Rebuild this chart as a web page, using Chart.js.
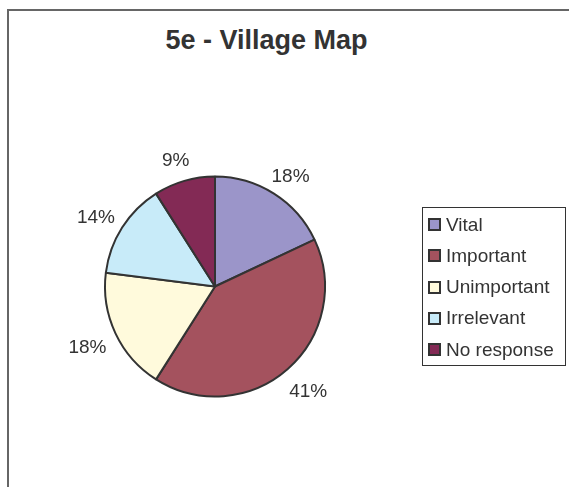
<!DOCTYPE html>
<html>
<head>
<meta charset="utf-8">
<script src="https://cdn.jsdelivr.net/npm/chart.js@4.4.1/dist/chart.umd.min.js"></script>
<style>
  html, body { margin: 0; padding: 0; background: #fff; }
  body { width: 569px; height: 487px; position: relative; overflow: hidden; font-family: 'Liberation Sans', Arial, sans-serif; }
  .frame { position: absolute; left: 7px; top: 9px; width: 700px; height: 600px; border-top: 2px solid #666; border-left: 2px solid #666; }
  .title { position: absolute; left: 0; top: 27px; width: 533px; text-align: center; font-weight: bold; font-size: 27px; line-height: 27px; color: #333; }
  #pie { position: absolute; left: 0; top: 0; }
  .legend { position: absolute; left: 422px; top: 207px; width: 144px; height: 159px; box-sizing: border-box; border: 1px solid #333; padding-top: 1px; }
  .legend-row { height: 31.25px; display: flex; align-items: center; }
  .legend-box { width: 13px; height: 13px; box-sizing: border-box; border: 2px solid #333; margin-left: 5px; margin-right: 5px; }
  .legend-text { font-size: 19px; color: #333; white-space: nowrap; }
</style>
</head>
<body>
<div class="frame"></div>
<div class="title">5e - Village Map</div>
<canvas id="pie" width="430" height="487"></canvas>
<div class="legend" id="legend"></div>
<script>
const categories = ['Vital', 'Important', 'Unimportant', 'Irrelevant', 'No response']
const shares     = [18, 41, 18, 14, 9]
const colors     = ['#9b95c9', '#a4525e', '#fffadc', '#c8ebf9', '#832a55']

// legend
document.getElementById('legend').innerHTML = categories.map((c, i) => `
  <div class="legend-row">
    <div class="legend-box" style="background:${colors[i]}"></div>
    <span class="legend-text">${c}</span>
  </div>`).join('')

// percent labels outside each slice (a bit wider sideways, like Excel)
const outsideLabels = {
  id: 'outsideLabels',
  afterDatasetsDraw(chart) {
    const ctx = chart.ctx
    const meta = chart.getDatasetMeta(0)
    ctx.save()
    ctx.font = '19px "Liberation Sans", Arial, sans-serif'
    ctx.fillStyle = '#333'
    ctx.textAlign = 'center'
    ctx.textBaseline = 'middle'
    meta.data.forEach((arc, i) => {
      const p = arc.getProps(['x', 'y', 'startAngle', 'endAngle', 'outerRadius'], true)
      const mid = (p.startAngle + p.endAngle) / 2
      const x = p.x + Math.cos(mid) * (p.outerRadius + 31)
      const y = p.y + Math.sin(mid) * (p.outerRadius + 25) + 4
      ctx.fillText(shares[i] + '%', x, y)
    })
    ctx.restore()
  }
}

new Chart(document.getElementById('pie').getContext('2d'), {
  type: 'pie',
  data: {
    labels: categories,
    datasets: [{
      data: shares,
      backgroundColor: colors,
      borderColor: '#333',
      borderWidth: 2,
      radius: 110,
    }]
  },
  options: {
    responsive: false,
    animation: false,
    devicePixelRatio: 1,
    layout: { padding: { top: 86 } },
    events: [],
    plugins: {
      legend: { display: false },
      title: { display: false },
      tooltip: { enabled: false },
    }
  },
  plugins: [outsideLabels]
})
</script>
</body>
</html>
